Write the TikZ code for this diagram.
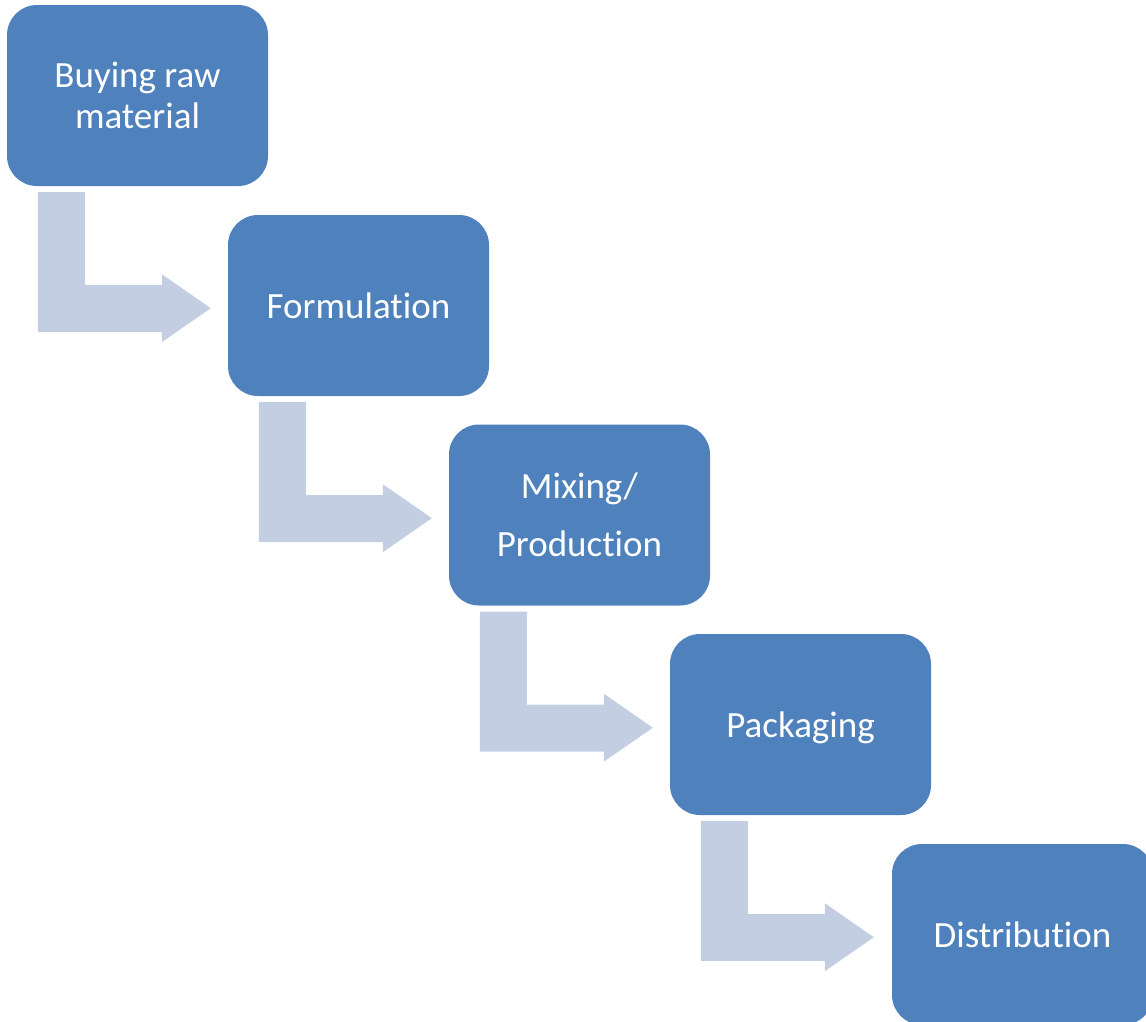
\documentclass[tikz,border=0pt]{standalone}
\usepackage{fontspec}
\setmainfont{Carlito}[Ligatures=CommonOff, RawFeature=-calt]
\usetikzlibrary{calc}
\definecolor{boxblue}{RGB}{79,129,189}
\definecolor{arrowblue}{RGB}{195,206,226}
\tikzset{
  stepbox/.style={fill=boxblue, draw=none, rounded corners=30pt, minimum width=261pt, minimum height=181pt,
    text=white, align=center, inner sep=0pt, font=\fontsize{37}{41}\selectfont},
  bentarrow/.style={fill=arrowblue, draw=none}
}
\begin{document}
\begin{tikzpicture}[x=1pt,y=-1pt]
\useasboundingbox (0,0) rectangle (1146,1021);
\node[stepbox] (b1) at (137.5,95.5) {Buying raw\\material};
\node[stepbox] (b2) at (358.5,305.5) {Formulat\kern0pt ion};
\node[stepbox, font=\fontsize{37}{58}\selectfont] (b3) at (579.5,515) {Mixing/\\Product\kern0pt ion};
\node[stepbox, text depth=0pt] (b4) at (800.5,724.5) {Packaging};
\begin{scope}
\clip (0,0) rectangle (1146,1021);
\node[stepbox] (b5) at (1022.5,934.5) {Distribut\kern0pt ion};
\end{scope}
\foreach \i in {1,2,3,4} {
  \fill[bentarrow] ($(b\i.south west)+(31,6)$) -- ++(47,0) -- ++(0,93) -- ++(77,0) -- ++(0,-11)
    -- ++(49,34) -- ++(-49,34) -- ++(0,-10) -- ++(-124,0) -- cycle;
}
\end{tikzpicture}
\end{document}
